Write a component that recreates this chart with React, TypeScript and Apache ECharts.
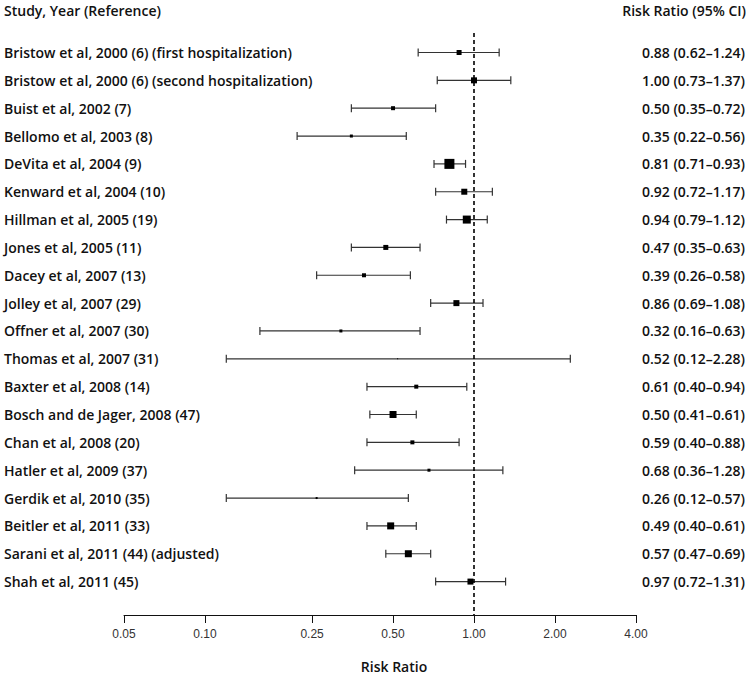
import React, { useEffect, useRef } from "react";
import * as echarts from "echarts";

const studies = [
  "Bristow et al, 2000 (6) (first hospitalization)",
  "Bristow et al, 2000 (6) (second hospitalization)",
  "Buist et al, 2002 (7)",
  "Bellomo et al, 2003 (8)",
  "DeVita et al, 2004 (9)",
  "Kenward et al, 2004 (10)",
  "Hillman et al, 2005 (19)",
  "Jones et al, 2005 (11)",
  "Dacey et al, 2007 (13)",
  "Jolley et al, 2007 (29)",
  "Offner et al, 2007 (30)",
  "Thomas et al, 2007 (31)",
  "Baxter et al, 2008 (14)",
  "Bosch and de Jager, 2008 (47)",
  "Chan et al, 2008 (20)",
  "Hatler et al, 2009 (37)",
  "Gerdik et al, 2010 (35)",
  "Beitler et al, 2011 (33)",
  "Sarani et al, 2011 (44) (adjusted)",
  "Shah et al, 2011 (45)",
];
const riskRatio = [0.88, 1.0, 0.5, 0.35, 0.81, 0.92, 0.94, 0.47, 0.39, 0.86, 0.32, 0.52, 0.61, 0.5, 0.59, 0.68, 0.26, 0.49, 0.57, 0.97];
const lowerCI = [0.62, 0.73, 0.35, 0.22, 0.71, 0.72, 0.79, 0.35, 0.26, 0.69, 0.16, 0.12, 0.4, 0.41, 0.4, 0.36, 0.12, 0.4, 0.47, 0.72];
const upperCI = [1.24, 1.37, 0.72, 0.56, 0.93, 1.17, 1.12, 0.63, 0.58, 1.08, 0.63, 2.28, 0.94, 0.61, 0.88, 1.28, 0.57, 0.61, 0.69, 1.31];
const weights = [5, 6, 4, 3, 10, 6, 8, 5, 4, 6, 3, 1, 4, 7, 4, 3, 2, 7, 7, 6];
const tickValues = [0.05, 0.1, 0.25, 0.5, 1, 2, 4];
const tickLabels = ["0.05", "0.10", "0.25", "0.50", "1.00", "2.00", "4.00"];

const FONT = '"Open Sans", "Noto Sans", sans-serif';
const FS = 14;

export default function App() {
  const ref = useRef<HTMLDivElement>(null);
  useEffect(() => {
    document.body.style.margin = "0";
    const chart = echarts.init(ref.current!, null, { renderer: "svg" });
    const data = studies.map((_, i) => [i, riskRatio[i], lowerCI[i], upperCI[i], weights[i]]);
    const ciText = studies.map(
      (_, i) => `${riskRatio[i].toFixed(2)} (${lowerCI[i].toFixed(2)}\u2013${upperCI[i].toFixed(2)})`
    );
    chart.setOption({
      animation: false,
      grid: { left: 124, right: 114, top: 33, bottom: 53 },
      xAxis: {
        type: "log",
        logBase: 10,
        min: 0.05,
        max: 4,
        position: "bottom",
        axisLine: { onZero: false, lineStyle: { color: "#111", width: 1 } },
        axisTick: { show: true, length: 8, inside: false, customValues: tickValues, lineStyle: { color: "#111" } },
        axisLabel: {
          customValues: tickValues,
          formatter: (v: number) => {
            const k = tickValues.findIndex((t) => Math.abs(t - v) < 1e-9);
            return k >= 0 ? tickLabels[k] : "";
          },
          color: "#333",
          fontSize: 12,
          fontFamily: "Liberation Sans, Arial, sans-serif",
          margin: 13,
        },
        splitLine: { show: false },
        name: "Risk Ratio",
        nameLocation: "middle",
        nameGap: 44,
        nameTextStyle: {
          fontFamily: FONT,
          fontWeight: 600,
          fontSize: FS,
          color: "#111",
          padding: [0, 0, 0, 28],
        },
      },
      yAxis: {
        type: "value",
        inverse: true,
        min: -0.7,
        max: 20.2,
        show: false,
      },
      graphic: [
        {
          type: "text",
          left: 4,
          top: 3,
          style: { text: "Study, Year (Reference)", fontFamily: FONT, fontWeight: 600, fontSize: FS, fill: "#111" },
        },
        {
          type: "text",
          right: 4,
          top: 3,
          style: { text: "Risk Ratio (95% CI)", fontFamily: FONT, fontWeight: 600, fontSize: FS, fill: "#111" },
        },
      ],
      series: [
        {
          type: "custom",
          clip: false,
          encode: { x: [1, 2, 3], y: 0 },
          data,
          renderItem: (params: any, api: any) => {
            const i = api.value(0);
            const c = api.coord([api.value(1), i]);
            const lo = api.coord([api.value(2), i])[0];
            const hi = api.coord([api.value(3), i])[0];
            const s = api.value(4);
            const y = c[1];
            const lineStyle = { stroke: "#333", lineWidth: 1.2 };
            return {
              type: "group",
              children: [
                { type: "line", shape: { x1: lo, y1: y, x2: hi, y2: y }, style: lineStyle },
                { type: "line", shape: { x1: lo, y1: y - 4, x2: lo, y2: y + 4 }, style: lineStyle },
                { type: "line", shape: { x1: hi, y1: y - 4, x2: hi, y2: y + 4 }, style: lineStyle },
                { type: "rect", shape: { x: c[0] - s / 2, y: y - s / 2, width: s, height: s }, style: { fill: "#000" } },
                {
                  type: "text",
                  x: 4,
                  y,
                  style: {
                    text: studies[i],
                    fontFamily: FONT,
                    fontWeight: 600,
                    fontSize: FS,
                    fill: "#111",
                    verticalAlign: "middle",
                    align: "left",
                  },
                },
                {
                  type: "text",
                  x: 745,
                  y,
                  style: {
                    text: ciText[i],
                    fontFamily: FONT,
                    fontWeight: 600,
                    fontSize: FS,
                    fill: "#111",
                    verticalAlign: "middle",
                    align: "right",
                  },
                },
              ],
            };
          },
          markLine: {
            silent: true,
            symbol: "none",
            label: { show: false },
            lineStyle: { color: "#000", type: [4, 3], width: 1.6 },
            data: [{ xAxis: 1 }],
          },
        },
      ],
    });
    return () => chart.dispose();
  }, []);
  return <div ref={ref} style={{ width: 750, height: 678 }} />;
}
